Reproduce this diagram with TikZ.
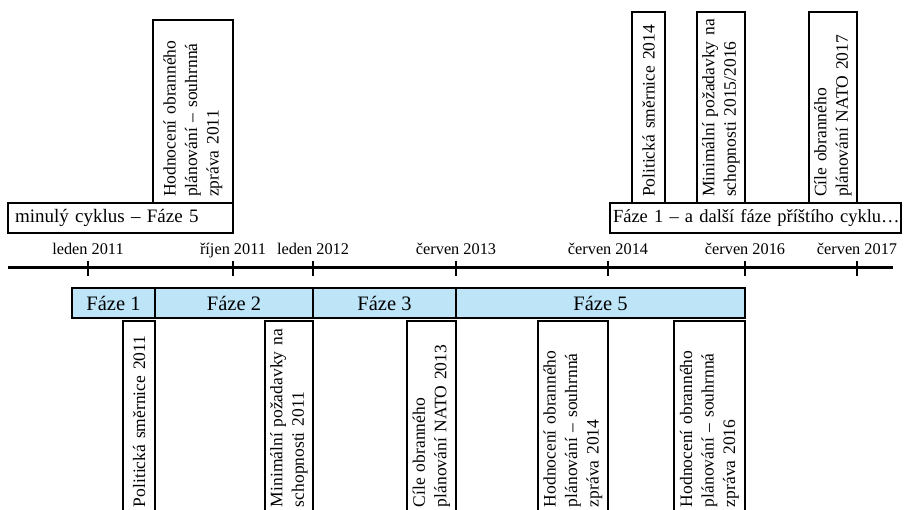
\documentclass[tikz,border=0pt]{standalone}
\usepackage{fontspec}
\setmainfont{Liberation Serif}
\usetikzlibrary{positioning}
\definecolor{phaseblue}{RGB}{189,228,247}

\begin{document}
\begin{tikzpicture}[x=1pt,y=-1pt,
    frame/.style={draw,line width=1.1pt,text width=#1,align=left,inner xsep=3pt,inner ysep=0pt,outer sep=0pt,minimum height=30pt,anchor=north west,font=\fontsize{19}{22}\selectfont},
    phase/.style={draw,line width=1.1pt,fill=phaseblue,minimum width=#1,minimum height=30pt,inner sep=0pt,outer sep=0pt,anchor=north west,font=\fontsize{20.5}{24}\selectfont},
    doc/.style n args={2}{draw,line width=1.1pt,rotate=90,text width=#1,minimum height=#2,align=left,inner xsep=6pt,inner ysep=0pt,outer sep=0pt,font=\fontsize{17.5}{21.5}\selectfont},
    tick/.style={font=\fontsize{16.3}{19}\selectfont,anchor=base}]
  \clip (0,0) rectangle (905,510);

  % time axis
  \coordinate (start) at (8,268);
  \coordinate (end) at (893,268);
  \draw[line width=3pt] (start) -- (end);
  \foreach \name/\x/\lab in {l11/88/leden 2011, r11/233/říjen 2011, l12/313/leden 2012, c13/456/červen 2013, c14/608/červen 2014, c16/745/červen 2016, c17/857/červen 2017}{
    \coordinate (\name) at (\x,268);
    \draw[line width=1.1pt] ([yshift=7pt]\name) -- ([yshift=-8pt]\name);
    \node[tick] (lab-\name) at ([yshift=13pt]\name) {\lab};
  }

  % phases
  \node[phase=83pt] (f1) at (72,288) {Fáze 1};
  \node[phase=158pt] (f2) at (f1.north east) {Fáze 2};
  \node[phase=143pt] (f3) at (f2.north east) {Fáze 3};
  \node[phase=289pt] (f5) at (f3.north east) {Fáze 5};

  % documents below
  \node[doc={180pt}{32pt},anchor=south east] (ps11) at ([yshift=-3pt]f1.south east) {Politická směrnice 2011};
  \node[doc={180pt}{48pt},anchor=south east] (mp11) at ([yshift=-3pt]f2.south east) {Minimální požadavky na\\schopnosti 2011};
  \node[doc={180pt}{49pt},anchor=south east] (co13) at ([yshift=-3pt]f3.south east) {Cíle obranného\\plánování NATO 2013};
  \node[doc={180pt}{70pt},anchor=south east] (ho14) at ([yshift=-3pt]c14 |- f5.south) {Hodnocení obranného\\plánování – souhrnná\\zpráva 2014};
  \node[doc={180pt}{71pt},anchor=south east] (ho16) at ([yshift=-3pt]f5.south east) {Hodnocení obranného\\plánování – souhrnná\\zpráva 2016};

  % previous and next cycle
  \node[frame=211pt,inner xsep=7pt] (past) at (8,203) {minulý cyklus – Fáze 5};
  \node[frame=285pt,font=\fontsize{18.5}{22}\selectfont] (next) at (610,203) {\mbox{Fáze 1 – a další fáze příštího cyklu…}};

  % documents above
  \node[doc={171pt}{80pt},anchor=south west] (ho11) at (past.north east) {Hodnocení obranného\\plánování – souhrnná\\zpráva 2011};
  \node[doc={179pt}{33pt},anchor=south west] (ps14) at ([xshift=55pt]next.north west) {Politická směrnice 2014};
  \node[doc={179pt}{48pt},anchor=south west] (mp16) at (c16 |- next.north) {Minimální požadavky na\\schopnosti 2015/2016};
  \node[doc={179pt}{48pt},anchor=south west] (co17) at (c17 |- next.north) {Cíle obranného\\plánování NATO 2017};
\end{tikzpicture}
\end{document}
